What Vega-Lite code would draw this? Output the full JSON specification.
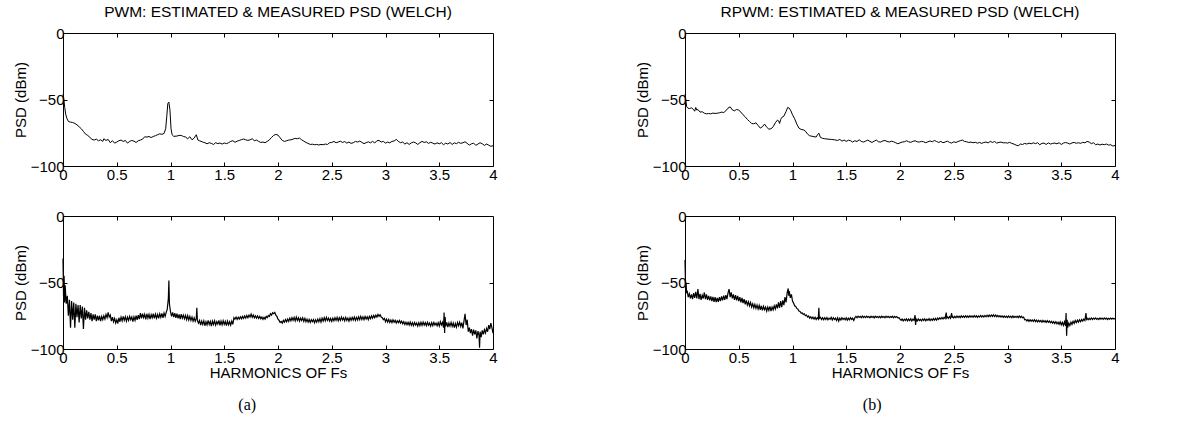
{
  "$schema": "https://vega.github.io/schema/vega-lite/v6.json",
  "padding": {"left": 12, "top": 4, "right": 5, "bottom": 2},
  "background": "white",
  "config": {
    "view": {"stroke": "black", "strokeWidth": 1},
    "font": "Liberation Sans",
    "axis": {
      "grid": false, "domain": false, "ticks": true, "tickSize": -4, "tickColor": "black", "tickWidth": 1,
      "labelColor": "black", "labelFont": "Liberation Sans", "labelFontSize": 15, "labelPadding": 5,
      "labelOverlap": false, "labelFlush": false, "labelBound": false,
      "titleColor": "black", "titleFont": "Liberation Sans", "titleFontSize": 15, "titleFontWeight": "normal"
    },
    "axisY": {"labelPadding": 3},
    "title": {"font": "Liberation Sans", "fontSize": 15.5, "fontWeight": "normal", "color": "black", "frame": "group", "anchor": "middle", "offset": 6}
  },
  "datasets": {
    "pwm_est": [
      {"h":0,"p":-46},{"h":0.008,"p":-50},{"h":0.016,"p":-56},{"h":0.025,"p":-61},{"h":0.035,"p":-64},{"h":0.05,"p":-66.5},{"h":0.07,"p":-67},{"h":0.09,"p":-67.3},{"h":0.11,"p":-68},{"h":0.13,"p":-69},{"h":0.15,"p":-70.5},{"h":0.17,"p":-72},{"h":0.19,"p":-74},{"h":0.21,"p":-76},{"h":0.23,"p":-77},{"h":0.25,"p":-78.5},{"h":0.27,"p":-80},{"h":0.29,"p":-80.5},{"h":0.31,"p":-79.8},{"h":0.33,"p":-81},{"h":0.35,"p":-80.3},{"h":0.37,"p":-81.5},{"h":0.38,"p":-79.5},{"h":0.40,"p":-80.8},{"h":0.42,"p":-80},{"h":0.44,"p":-82.5},{"h":0.46,"p":-81},{"h":0.48,"p":-82.8},{"h":0.50,"p":-82},{"h":0.52,"p":-81},{"h":0.54,"p":-80.5},{"h":0.56,"p":-81.5},{"h":0.58,"p":-80.8},{"h":0.60,"p":-82.8},{"h":0.62,"p":-81.5},{"h":0.64,"p":-80.8},{"h":0.66,"p":-81.3},{"h":0.68,"p":-82.3},{"h":0.70,"p":-81},{"h":0.72,"p":-80.5},{"h":0.74,"p":-79.8},{"h":0.76,"p":-78},{"h":0.78,"p":-78.3},{"h":0.80,"p":-77.8},{"h":0.82,"p":-78.6},{"h":0.84,"p":-77.8},{"h":0.86,"p":-77.2},{"h":0.88,"p":-76.5},{"h":0.90,"p":-75.8},{"h":0.92,"p":-76.2},{"h":0.94,"p":-75.5},{"h":0.955,"p":-72},{"h":0.965,"p":-63},{"h":0.975,"p":-53},{"h":0.985,"p":-52},{"h":0.995,"p":-58},{"h":1.005,"p":-72},{"h":1.015,"p":-76.5},{"h":1.03,"p":-77.7},{"h":1.06,"p":-77.5},{"h":1.08,"p":-77},{"h":1.10,"p":-77},{"h":1.12,"p":-77.8},{"h":1.14,"p":-78.2},{"h":1.16,"p":-79.5},{"h":1.18,"p":-78},{"h":1.20,"p":-80.3},{"h":1.22,"p":-79},{"h":1.24,"p":-76.5},{"h":1.255,"p":-80.5},{"h":1.27,"p":-81},{"h":1.30,"p":-82},{"h":1.32,"p":-82.5},{"h":1.34,"p":-83.3},{"h":1.36,"p":-82.5},{"h":1.38,"p":-83},{"h":1.40,"p":-83.8},{"h":1.42,"p":-82.5},{"h":1.44,"p":-83.2},{"h":1.46,"p":-82.7},{"h":1.48,"p":-83.5},{"h":1.50,"p":-82.7},{"h":1.52,"p":-83.2},{"h":1.54,"p":-82.5},{"h":1.56,"p":-81.5},{"h":1.58,"p":-81},{"h":1.60,"p":-82.2},{"h":1.62,"p":-81.3},{"h":1.64,"p":-80.8},{"h":1.66,"p":-80.2},{"h":1.68,"p":-79.7},{"h":1.70,"p":-80.3},{"h":1.72,"p":-80.8},{"h":1.74,"p":-80.3},{"h":1.76,"p":-79.5},{"h":1.78,"p":-81},{"h":1.80,"p":-80.5},{"h":1.82,"p":-81.5},{"h":1.84,"p":-82.3},{"h":1.86,"p":-82},{"h":1.88,"p":-82.5},{"h":1.90,"p":-81.5},{"h":1.92,"p":-80.3},{"h":1.94,"p":-78.5},{"h":1.96,"p":-77},{"h":1.98,"p":-76.2},{"h":2.00,"p":-76.8},{"h":2.02,"p":-78.8},{"h":2.04,"p":-80.8},{"h":2.06,"p":-81.5},{"h":2.08,"p":-81},{"h":2.10,"p":-80.5},{"h":2.12,"p":-80.3},{"h":2.14,"p":-79.8},{"h":2.16,"p":-79.2},{"h":2.18,"p":-79.5},{"h":2.20,"p":-79},{"h":2.22,"p":-80.3},{"h":2.24,"p":-81.3},{"h":2.26,"p":-82.3},{"h":2.28,"p":-83},{"h":2.30,"p":-83.8},{"h":2.32,"p":-83.6},{"h":2.34,"p":-84},{"h":2.36,"p":-83.8},{"h":2.38,"p":-84.2},{"h":2.40,"p":-83.8},{"h":2.42,"p":-84},{"h":2.44,"p":-83.5},{"h":2.46,"p":-83.8},{"h":2.48,"p":-82.5},{"h":2.50,"p":-82.3},{"h":2.52,"p":-81.5},{"h":2.54,"p":-82.5},{"h":2.56,"p":-82},{"h":2.58,"p":-81.3},{"h":2.60,"p":-82.3},{"h":2.62,"p":-81.6},{"h":2.64,"p":-82.8},{"h":2.66,"p":-82},{"h":2.68,"p":-83},{"h":2.70,"p":-82.5},{"h":2.72,"p":-81.5},{"h":2.74,"p":-82},{"h":2.76,"p":-81.3},{"h":2.78,"p":-82.2},{"h":2.80,"p":-83.2},{"h":2.82,"p":-82.5},{"h":2.84,"p":-81.8},{"h":2.86,"p":-82.6},{"h":2.88,"p":-81.5},{"h":2.90,"p":-82.7},{"h":2.92,"p":-81},{"h":2.94,"p":-80.8},{"h":2.96,"p":-82},{"h":2.98,"p":-81.5},{"h":3.00,"p":-82.8},{"h":3.02,"p":-82},{"h":3.04,"p":-82.6},{"h":3.06,"p":-81.5},{"h":3.08,"p":-81.2},{"h":3.10,"p":-80},{"h":3.12,"p":-81.5},{"h":3.14,"p":-82.5},{"h":3.16,"p":-82},{"h":3.18,"p":-83.5},{"h":3.20,"p":-82.5},{"h":3.22,"p":-83.8},{"h":3.24,"p":-82.6},{"h":3.26,"p":-82},{"h":3.28,"p":-82.6},{"h":3.30,"p":-83.8},{"h":3.32,"p":-82.5},{"h":3.34,"p":-81.5},{"h":3.36,"p":-82.3},{"h":3.38,"p":-81.8},{"h":3.40,"p":-83},{"h":3.42,"p":-82.2},{"h":3.44,"p":-82.8},{"h":3.46,"p":-83.5},{"h":3.48,"p":-82.6},{"h":3.50,"p":-83.3},{"h":3.52,"p":-82.5},{"h":3.54,"p":-84},{"h":3.56,"p":-82.8},{"h":3.58,"p":-83.5},{"h":3.60,"p":-82.3},{"h":3.62,"p":-83.8},{"h":3.64,"p":-82.6},{"h":3.66,"p":-83.2},{"h":3.68,"p":-82.2},{"h":3.70,"p":-83},{"h":3.72,"p":-82.5},{"h":3.74,"p":-81.8},{"h":3.76,"p":-83},{"h":3.78,"p":-84.3},{"h":3.80,"p":-83.3},{"h":3.82,"p":-82.8},{"h":3.84,"p":-84.5},{"h":3.86,"p":-83.5},{"h":3.88,"p":-82.5},{"h":3.90,"p":-83.3},{"h":3.92,"p":-84.5},{"h":3.94,"p":-83.5},{"h":3.96,"p":-84.3},{"h":3.98,"p":-85.2},{"h":4.00,"p":-84.8}
    ],
    "rpwm_est": [
      {"h":0,"p":-46},{"h":0.008,"p":-51},{"h":0.016,"p":-55.5},{"h":0.027,"p":-56.5},{"h":0.04,"p":-56.8},{"h":0.06,"p":-56.3},{"h":0.08,"p":-57.5},{"h":0.09,"p":-58.8},{"h":0.10,"p":-56},{"h":0.11,"p":-58},{"h":0.12,"p":-57.5},{"h":0.14,"p":-59.5},{"h":0.16,"p":-59.2},{"h":0.18,"p":-60.3},{"h":0.20,"p":-60.8},{"h":0.22,"p":-60.5},{"h":0.24,"p":-60.8},{"h":0.26,"p":-60.2},{"h":0.28,"p":-60.5},{"h":0.30,"p":-60.3},{"h":0.32,"p":-60},{"h":0.34,"p":-59.5},{"h":0.36,"p":-59.8},{"h":0.38,"p":-58.5},{"h":0.40,"p":-56.5},{"h":0.42,"p":-55.5},{"h":0.44,"p":-57.8},{"h":0.46,"p":-58.5},{"h":0.48,"p":-57.5},{"h":0.50,"p":-58},{"h":0.52,"p":-59.5},{"h":0.54,"p":-61.5},{"h":0.56,"p":-63},{"h":0.58,"p":-65},{"h":0.60,"p":-66.5},{"h":0.62,"p":-68},{"h":0.64,"p":-68.3},{"h":0.66,"p":-67.5},{"h":0.68,"p":-69.5},{"h":0.70,"p":-71.5},{"h":0.72,"p":-70.5},{"h":0.74,"p":-68.5},{"h":0.76,"p":-70.8},{"h":0.78,"p":-72.3},{"h":0.80,"p":-72},{"h":0.82,"p":-70.5},{"h":0.84,"p":-67.5},{"h":0.86,"p":-65.5},{"h":0.87,"p":-66},{"h":0.88,"p":-68},{"h":0.89,"p":-65},{"h":0.90,"p":-63.5},{"h":0.92,"p":-62.5},{"h":0.94,"p":-59},{"h":0.955,"p":-56},{"h":0.97,"p":-56.5},{"h":0.985,"p":-58.5},{"h":1.00,"p":-61.5},{"h":1.02,"p":-64.5},{"h":1.04,"p":-68.5},{"h":1.06,"p":-71.5},{"h":1.08,"p":-72.5},{"h":1.10,"p":-72.8},{"h":1.12,"p":-73.8},{"h":1.14,"p":-76},{"h":1.16,"p":-77.3},{"h":1.18,"p":-77.6},{"h":1.20,"p":-78},{"h":1.22,"p":-78.2},{"h":1.235,"p":-76.2},{"h":1.245,"p":-75.3},{"h":1.26,"p":-78.5},{"h":1.28,"p":-79.2},{"h":1.30,"p":-79.5},{"h":1.33,"p":-79.8},{"h":1.36,"p":-80},{"h":1.39,"p":-80.3},{"h":1.42,"p":-80.8},{"h":1.44,"p":-80},{"h":1.46,"p":-81.3},{"h":1.48,"p":-80.5},{"h":1.50,"p":-81.5},{"h":1.52,"p":-80.6},{"h":1.54,"p":-81},{"h":1.56,"p":-82},{"h":1.58,"p":-81},{"h":1.60,"p":-81.6},{"h":1.62,"p":-80.3},{"h":1.64,"p":-81.5},{"h":1.66,"p":-82},{"h":1.68,"p":-81.3},{"h":1.70,"p":-80.5},{"h":1.72,"p":-81.5},{"h":1.74,"p":-82.3},{"h":1.76,"p":-81.3},{"h":1.78,"p":-80.5},{"h":1.80,"p":-81.8},{"h":1.82,"p":-82},{"h":1.84,"p":-81.2},{"h":1.86,"p":-80.8},{"h":1.88,"p":-81.5},{"h":1.90,"p":-82},{"h":1.92,"p":-81.3},{"h":1.94,"p":-81.8},{"h":1.96,"p":-82.5},{"h":1.98,"p":-83.3},{"h":2.00,"p":-82.6},{"h":2.02,"p":-82},{"h":2.04,"p":-81.8},{"h":2.06,"p":-81},{"h":2.08,"p":-81.8},{"h":2.10,"p":-82.2},{"h":2.12,"p":-81.5},{"h":2.14,"p":-81},{"h":2.16,"p":-81.8},{"h":2.18,"p":-82},{"h":2.20,"p":-81.5},{"h":2.22,"p":-81.8},{"h":2.24,"p":-82.5},{"h":2.26,"p":-81.8},{"h":2.28,"p":-81.2},{"h":2.30,"p":-81.8},{"h":2.32,"p":-80.8},{"h":2.34,"p":-81.6},{"h":2.36,"p":-82.3},{"h":2.38,"p":-81.5},{"h":2.40,"p":-82.5},{"h":2.42,"p":-82},{"h":2.44,"p":-81.3},{"h":2.46,"p":-82.2},{"h":2.48,"p":-82.8},{"h":2.50,"p":-81.8},{"h":2.52,"p":-82.3},{"h":2.54,"p":-81.6},{"h":2.56,"p":-81},{"h":2.58,"p":-80.5},{"h":2.60,"p":-81.5},{"h":2.62,"p":-81.8},{"h":2.64,"p":-82.3},{"h":2.66,"p":-82},{"h":2.68,"p":-82.5},{"h":2.70,"p":-82.2},{"h":2.72,"p":-82.8},{"h":2.74,"p":-82.3},{"h":2.76,"p":-83},{"h":2.78,"p":-82.3},{"h":2.80,"p":-82},{"h":2.82,"p":-82.6},{"h":2.84,"p":-81.5},{"h":2.86,"p":-82.3},{"h":2.88,"p":-81.6},{"h":2.90,"p":-82.8},{"h":2.92,"p":-82.3},{"h":2.94,"p":-82},{"h":2.96,"p":-82.6},{"h":2.98,"p":-82.5},{"h":3.00,"p":-82.8},{"h":3.02,"p":-82.2},{"h":3.04,"p":-83},{"h":3.06,"p":-83.5},{"h":3.08,"p":-84.3},{"h":3.10,"p":-84.8},{"h":3.12,"p":-83.5},{"h":3.14,"p":-83.8},{"h":3.16,"p":-83},{"h":3.18,"p":-83.5},{"h":3.20,"p":-82.8},{"h":3.22,"p":-83.3},{"h":3.24,"p":-82.6},{"h":3.26,"p":-83.2},{"h":3.28,"p":-82.5},{"h":3.30,"p":-84},{"h":3.32,"p":-83},{"h":3.34,"p":-82.8},{"h":3.36,"p":-83.8},{"h":3.38,"p":-82.6},{"h":3.40,"p":-83.5},{"h":3.42,"p":-83},{"h":3.44,"p":-82.8},{"h":3.46,"p":-83.3},{"h":3.48,"p":-82.5},{"h":3.50,"p":-83.8},{"h":3.52,"p":-82.8},{"h":3.54,"p":-82.3},{"h":3.56,"p":-82.8},{"h":3.58,"p":-83.5},{"h":3.60,"p":-82.6},{"h":3.62,"p":-82.3},{"h":3.64,"p":-82.9},{"h":3.66,"p":-82.5},{"h":3.68,"p":-83},{"h":3.70,"p":-82.2},{"h":3.72,"p":-82.6},{"h":3.74,"p":-81.5},{"h":3.76,"p":-82},{"h":3.78,"p":-83.2},{"h":3.80,"p":-82.5},{"h":3.82,"p":-84},{"h":3.84,"p":-83.5},{"h":3.86,"p":-84.2},{"h":3.88,"p":-83.6},{"h":3.90,"p":-84},{"h":3.92,"p":-83.5},{"h":3.94,"p":-84.3},{"h":3.96,"p":-84},{"h":3.98,"p":-85},{"h":4.00,"p":-84.6}
    ],
    "pwm_meas": [
      {"h":0,"p":-32},{"h":0.005,"p":-60},{"h":0.01,"p":-45},{"h":0.015,"p":-65},{"h":0.02,"p":-52},{"h":0.03,"p":-66},{"h":0.04,"p":-60},{"h":0.05,"p":-75},{"h":0.06,"p":-63},{"h":0.07,"p":-84},{"h":0.08,"p":-64},{"h":0.09,"p":-78},{"h":0.10,"p":-65},{"h":0.11,"p":-84},{"h":0.12,"p":-66},{"h":0.13,"p":-76},{"h":0.14,"p":-67},{"h":0.15,"p":-80},{"h":0.16,"p":-67},{"h":0.17,"p":-77},{"h":0.18,"p":-68},{"h":0.19,"p":-85},{"h":0.20,"p":-69},{"h":0.21,"p":-78},{"h":0.22,"p":-71},{"h":0.23,"p":-77},{"h":0.24,"p":-72},{"h":0.25,"p":-78},{"h":0.26,"p":-73},{"h":0.27,"p":-79},{"h":0.28,"p":-74},{"h":0.29,"p":-78},{"h":0.30,"p":-74},{"h":0.31,"p":-79},{"h":0.32,"p":-75},{"h":0.33,"p":-78.5},{"h":0.34,"p":-75},{"h":0.35,"p":-79},{"h":0.36,"p":-75.5},{"h":0.37,"p":-78},{"h":0.38,"p":-75},{"h":0.39,"p":-77.5},{"h":0.40,"p":-74},{"h":0.41,"p":-76.5},{"h":0.42,"p":-72.5},{"h":0.43,"p":-76},{"h":0.44,"p":-74.5},{"h":0.45,"p":-79},{"h":0.46,"p":-76},{"h":0.47,"p":-79.5},{"h":0.48,"p":-77},{"h":0.49,"p":-80.5},{"h":0.50,"p":-78},{"h":0.51,"p":-80.8},{"h":0.52,"p":-76.5},{"h":0.53,"p":-79.5},{"h":0.54,"p":-76},{"h":0.55,"p":-78.8},{"h":0.56,"p":-75.5},{"h":0.57,"p":-78.5},{"h":0.58,"p":-75.8},{"h":0.59,"p":-79},{"h":0.60,"p":-76},{"h":0.61,"p":-78.5},{"h":0.62,"p":-75.5},{"h":0.63,"p":-78},{"h":0.64,"p":-76},{"h":0.65,"p":-79.5},{"h":0.66,"p":-75.8},{"h":0.67,"p":-78.5},{"h":0.68,"p":-75},{"h":0.69,"p":-78},{"h":0.70,"p":-74.5},{"h":0.71,"p":-77.5},{"h":0.72,"p":-73},{"h":0.73,"p":-77},{"h":0.74,"p":-73.5},{"h":0.75,"p":-76.5},{"h":0.76,"p":-74},{"h":0.77,"p":-77.8},{"h":0.78,"p":-73.5},{"h":0.79,"p":-76.8},{"h":0.80,"p":-74},{"h":0.81,"p":-77.5},{"h":0.82,"p":-74.2},{"h":0.83,"p":-76.5},{"h":0.84,"p":-73.5},{"h":0.85,"p":-77},{"h":0.86,"p":-73.8},{"h":0.87,"p":-76.8},{"h":0.88,"p":-74},{"h":0.89,"p":-77},{"h":0.90,"p":-73.5},{"h":0.91,"p":-76.2},{"h":0.92,"p":-73.2},{"h":0.93,"p":-76.5},{"h":0.94,"p":-73},{"h":0.95,"p":-75.5},{"h":0.96,"p":-72.5},{"h":0.97,"p":-70},{"h":0.98,"p":-62},{"h":0.985,"p":-48.5},{"h":0.99,"p":-66},{"h":1.00,"p":-72},{"h":1.01,"p":-75.5},{"h":1.02,"p":-72.5},{"h":1.03,"p":-76},{"h":1.04,"p":-73},{"h":1.05,"p":-76.5},{"h":1.06,"p":-73.5},{"h":1.07,"p":-77},{"h":1.08,"p":-74},{"h":1.09,"p":-77.5},{"h":1.10,"p":-73.8},{"h":1.11,"p":-76.8},{"h":1.12,"p":-74.5},{"h":1.13,"p":-77.2},{"h":1.14,"p":-74.8},{"h":1.15,"p":-78},{"h":1.16,"p":-75},{"h":1.17,"p":-78.2},{"h":1.18,"p":-75.5},{"h":1.19,"p":-78.5},{"h":1.20,"p":-76},{"h":1.21,"p":-79},{"h":1.22,"p":-76.5},{"h":1.23,"p":-79.2},{"h":1.24,"p":-76.8},{"h":1.245,"p":-69},{"h":1.25,"p":-78.5},{"h":1.26,"p":-80.5},{"h":1.27,"p":-78.5},{"h":1.28,"p":-82},{"h":1.29,"p":-79},{"h":1.30,"p":-81.5},{"h":1.31,"p":-78.8},{"h":1.32,"p":-82.5},{"h":1.33,"p":-79.5},{"h":1.34,"p":-81.8},{"h":1.35,"p":-78.5},{"h":1.36,"p":-81.5},{"h":1.37,"p":-79.2},{"h":1.38,"p":-82.8},{"h":1.39,"p":-79},{"h":1.40,"p":-81.5},{"h":1.41,"p":-78.8},{"h":1.42,"p":-82},{"h":1.43,"p":-79.5},{"h":1.44,"p":-81.2},{"h":1.45,"p":-78.5},{"h":1.46,"p":-82.3},{"h":1.47,"p":-79},{"h":1.48,"p":-81.8},{"h":1.49,"p":-78.8},{"h":1.50,"p":-81.5},{"h":1.51,"p":-79.2},{"h":1.52,"p":-82.5},{"h":1.53,"p":-79},{"h":1.54,"p":-81.8},{"h":1.55,"p":-79.5},{"h":1.56,"p":-82},{"h":1.57,"p":-79},{"h":1.58,"p":-81.5},{"h":1.59,"p":-76.5},{"h":1.60,"p":-77.5},{"h":1.61,"p":-76},{"h":1.62,"p":-77.8},{"h":1.63,"p":-76.2},{"h":1.64,"p":-77.5},{"h":1.65,"p":-75.8},{"h":1.66,"p":-77.3},{"h":1.67,"p":-75.5},{"h":1.68,"p":-77},{"h":1.69,"p":-75.2},{"h":1.70,"p":-76.8},{"h":1.71,"p":-74.8},{"h":1.72,"p":-76.5},{"h":1.73,"p":-74.5},{"h":1.74,"p":-76},{"h":1.75,"p":-73.8},{"h":1.76,"p":-76.2},{"h":1.77,"p":-74.5},{"h":1.78,"p":-76.5},{"h":1.79,"p":-75},{"h":1.80,"p":-76.8},{"h":1.81,"p":-75.2},{"h":1.82,"p":-77},{"h":1.83,"p":-75.5},{"h":1.84,"p":-77.3},{"h":1.85,"p":-76},{"h":1.86,"p":-77.8},{"h":1.87,"p":-76.2},{"h":1.88,"p":-77.5},{"h":1.89,"p":-75.5},{"h":1.90,"p":-76.5},{"h":1.91,"p":-74.8},{"h":1.92,"p":-75.5},{"h":1.93,"p":-73.5},{"h":1.94,"p":-74.5},{"h":1.95,"p":-72.8},{"h":1.96,"p":-73.5},{"h":1.97,"p":-72.5},{"h":1.98,"p":-74.5},{"h":1.99,"p":-75.5},{"h":2.00,"p":-77.5},{"h":2.01,"p":-78.5},{"h":2.02,"p":-80},{"h":2.03,"p":-79.2},{"h":2.04,"p":-80.5},{"h":2.05,"p":-78.5},{"h":2.06,"p":-79.8},{"h":2.07,"p":-77.8},{"h":2.08,"p":-79.5},{"h":2.09,"p":-77.5},{"h":2.10,"p":-79.2},{"h":2.11,"p":-76.8},{"h":2.12,"p":-78.8},{"h":2.13,"p":-76.5},{"h":2.14,"p":-78.5},{"h":2.15,"p":-76.2},{"h":2.16,"p":-78.8},{"h":2.17,"p":-76},{"h":2.18,"p":-78.5},{"h":2.19,"p":-76.5},{"h":2.20,"p":-79},{"h":2.21,"p":-76.8},{"h":2.22,"p":-78.5},{"h":2.23,"p":-76.5},{"h":2.24,"p":-79.2},{"h":2.25,"p":-77},{"h":2.26,"p":-79.5},{"h":2.27,"p":-77.5},{"h":2.28,"p":-79.8},{"h":2.29,"p":-77.8},{"h":2.30,"p":-80},{"h":2.31,"p":-78},{"h":2.32,"p":-79.5},{"h":2.33,"p":-77.8},{"h":2.34,"p":-80.2},{"h":2.35,"p":-78},{"h":2.36,"p":-79.8},{"h":2.37,"p":-77.5},{"h":2.38,"p":-79.5},{"h":2.39,"p":-77.2},{"h":2.40,"p":-79.8},{"h":2.41,"p":-76.8},{"h":2.42,"p":-79},{"h":2.43,"p":-76.5},{"h":2.44,"p":-78.8},{"h":2.45,"p":-76.2},{"h":2.46,"p":-78.5},{"h":2.47,"p":-76.8},{"h":2.48,"p":-79},{"h":2.49,"p":-77},{"h":2.50,"p":-79.2},{"h":2.51,"p":-76.8},{"h":2.52,"p":-78.8},{"h":2.53,"p":-76.5},{"h":2.54,"p":-78.5},{"h":2.55,"p":-76.2},{"h":2.56,"p":-78.8},{"h":2.57,"p":-76.5},{"h":2.58,"p":-78.5},{"h":2.59,"p":-76},{"h":2.60,"p":-78.2},{"h":2.61,"p":-76.5},{"h":2.62,"p":-78.8},{"h":2.63,"p":-76.2},{"h":2.64,"p":-78.5},{"h":2.65,"p":-76.8},{"h":2.66,"p":-79},{"h":2.67,"p":-76.5},{"h":2.68,"p":-78.5},{"h":2.69,"p":-76.2},{"h":2.70,"p":-78.2},{"h":2.71,"p":-76},{"h":2.72,"p":-78.5},{"h":2.73,"p":-76.2},{"h":2.74,"p":-78.2},{"h":2.75,"p":-75.8},{"h":2.76,"p":-78},{"h":2.77,"p":-75.5},{"h":2.78,"p":-77.8},{"h":2.79,"p":-75.8},{"h":2.80,"p":-78},{"h":2.81,"p":-75.5},{"h":2.82,"p":-77.5},{"h":2.83,"p":-75.8},{"h":2.84,"p":-78},{"h":2.85,"p":-75.5},{"h":2.86,"p":-77.2},{"h":2.87,"p":-75},{"h":2.88,"p":-76.8},{"h":2.89,"p":-74.8},{"h":2.90,"p":-76.5},{"h":2.91,"p":-74.5},{"h":2.92,"p":-76},{"h":2.93,"p":-74},{"h":2.94,"p":-75.5},{"h":2.95,"p":-74.2},{"h":2.96,"p":-76},{"h":2.97,"p":-76.5},{"h":2.98,"p":-78},{"h":2.99,"p":-77},{"h":3.00,"p":-79.5},{"h":3.01,"p":-77.5},{"h":3.02,"p":-79.8},{"h":3.03,"p":-77.8},{"h":3.04,"p":-80},{"h":3.05,"p":-78.2},{"h":3.06,"p":-80.2},{"h":3.07,"p":-78},{"h":3.08,"p":-79.8},{"h":3.09,"p":-78.5},{"h":3.10,"p":-80.5},{"h":3.11,"p":-78.8},{"h":3.12,"p":-80.2},{"h":3.13,"p":-78.5},{"h":3.14,"p":-80.5},{"h":3.15,"p":-79},{"h":3.16,"p":-81},{"h":3.17,"p":-79.5},{"h":3.18,"p":-81.5},{"h":3.19,"p":-79.8},{"h":3.20,"p":-81.8},{"h":3.21,"p":-80},{"h":3.22,"p":-82},{"h":3.23,"p":-79.8},{"h":3.24,"p":-82.2},{"h":3.25,"p":-80.2},{"h":3.26,"p":-82.5},{"h":3.27,"p":-80},{"h":3.28,"p":-82},{"h":3.29,"p":-80.5},{"h":3.30,"p":-82.8},{"h":3.31,"p":-80.2},{"h":3.32,"p":-82.5},{"h":3.33,"p":-80},{"h":3.34,"p":-82.2},{"h":3.35,"p":-79.8},{"h":3.36,"p":-82},{"h":3.37,"p":-80.2},{"h":3.38,"p":-82.5},{"h":3.39,"p":-80},{"h":3.40,"p":-82.2},{"h":3.41,"p":-80.5},{"h":3.42,"p":-82.8},{"h":3.43,"p":-80.2},{"h":3.44,"p":-82.5},{"h":3.45,"p":-80},{"h":3.46,"p":-82},{"h":3.47,"p":-80.5},{"h":3.48,"p":-82.5},{"h":3.49,"p":-80.2},{"h":3.50,"p":-82.8},{"h":3.51,"p":-79.5},{"h":3.52,"p":-82},{"h":3.53,"p":-80},{"h":3.54,"p":-84},{"h":3.545,"p":-72.5},{"h":3.55,"p":-88},{"h":3.555,"p":-76},{"h":3.56,"p":-83},{"h":3.57,"p":-80},{"h":3.58,"p":-83.5},{"h":3.59,"p":-80.5},{"h":3.60,"p":-82.8},{"h":3.61,"p":-80},{"h":3.62,"p":-83},{"h":3.63,"p":-80.5},{"h":3.64,"p":-84},{"h":3.65,"p":-80.8},{"h":3.66,"p":-83.5},{"h":3.67,"p":-80},{"h":3.68,"p":-82.5},{"h":3.69,"p":-79.8},{"h":3.70,"p":-83},{"h":3.71,"p":-80.2},{"h":3.72,"p":-84.5},{"h":3.73,"p":-79},{"h":3.74,"p":-73.5},{"h":3.75,"p":-82},{"h":3.76,"p":-78},{"h":3.77,"p":-87},{"h":3.78,"p":-84},{"h":3.79,"p":-88},{"h":3.80,"p":-85},{"h":3.81,"p":-90},{"h":3.82,"p":-85.5},{"h":3.83,"p":-89},{"h":3.84,"p":-86},{"h":3.85,"p":-92},{"h":3.86,"p":-86.5},{"h":3.87,"p":-90},{"h":3.875,"p":-99},{"h":3.88,"p":-87},{"h":3.89,"p":-91},{"h":3.90,"p":-86},{"h":3.91,"p":-89},{"h":3.92,"p":-85.5},{"h":3.93,"p":-88},{"h":3.94,"p":-84.5},{"h":3.95,"p":-87},{"h":3.96,"p":-82},{"h":3.97,"p":-85},{"h":3.98,"p":-80.5},{"h":3.99,"p":-84},{"h":4.00,"p":-88}
    ],
    "rpwm_meas": [
      {"h":0,"p":-33},{"h":0.005,"p":-52},{"h":0.01,"p":-50},{"h":0.015,"p":-58},{"h":0.02,"p":-56},{"h":0.03,"p":-61},{"h":0.04,"p":-58.5},{"h":0.05,"p":-62},{"h":0.06,"p":-59},{"h":0.07,"p":-62.5},{"h":0.08,"p":-58},{"h":0.09,"p":-61.5},{"h":0.10,"p":-57},{"h":0.11,"p":-62},{"h":0.12,"p":-55},{"h":0.13,"p":-62.5},{"h":0.14,"p":-58.5},{"h":0.15,"p":-63},{"h":0.16,"p":-59.5},{"h":0.17,"p":-62},{"h":0.18,"p":-57.5},{"h":0.19,"p":-62.5},{"h":0.20,"p":-59},{"h":0.21,"p":-63},{"h":0.22,"p":-60},{"h":0.23,"p":-63.5},{"h":0.24,"p":-60.5},{"h":0.25,"p":-64},{"h":0.26,"p":-60.8},{"h":0.27,"p":-64.5},{"h":0.28,"p":-61},{"h":0.29,"p":-64.8},{"h":0.30,"p":-61.5},{"h":0.31,"p":-64.5},{"h":0.32,"p":-61},{"h":0.33,"p":-64},{"h":0.34,"p":-60.5},{"h":0.35,"p":-63.5},{"h":0.36,"p":-59.8},{"h":0.37,"p":-63},{"h":0.38,"p":-59.5},{"h":0.39,"p":-62.5},{"h":0.40,"p":-58},{"h":0.41,"p":-55},{"h":0.42,"p":-61},{"h":0.43,"p":-57.5},{"h":0.44,"p":-62},{"h":0.45,"p":-59},{"h":0.46,"p":-63},{"h":0.47,"p":-59.5},{"h":0.48,"p":-63.5},{"h":0.49,"p":-60},{"h":0.50,"p":-64},{"h":0.51,"p":-61},{"h":0.52,"p":-65},{"h":0.53,"p":-61.5},{"h":0.54,"p":-65.5},{"h":0.55,"p":-62.5},{"h":0.56,"p":-66.5},{"h":0.57,"p":-63.5},{"h":0.58,"p":-67},{"h":0.59,"p":-64.5},{"h":0.60,"p":-67.5},{"h":0.61,"p":-65},{"h":0.62,"p":-68.5},{"h":0.63,"p":-66},{"h":0.64,"p":-69},{"h":0.65,"p":-66.5},{"h":0.66,"p":-69.5},{"h":0.67,"p":-67},{"h":0.68,"p":-70},{"h":0.69,"p":-67.2},{"h":0.70,"p":-70.5},{"h":0.71,"p":-67.5},{"h":0.72,"p":-71},{"h":0.73,"p":-68},{"h":0.74,"p":-70.5},{"h":0.75,"p":-68.5},{"h":0.76,"p":-71.5},{"h":0.77,"p":-68.5},{"h":0.78,"p":-71},{"h":0.79,"p":-68},{"h":0.80,"p":-71.5},{"h":0.81,"p":-68.5},{"h":0.82,"p":-70.5},{"h":0.83,"p":-67.5},{"h":0.84,"p":-70},{"h":0.85,"p":-66.5},{"h":0.86,"p":-69.5},{"h":0.87,"p":-65},{"h":0.88,"p":-69},{"h":0.89,"p":-64},{"h":0.90,"p":-68.5},{"h":0.91,"p":-63.5},{"h":0.92,"p":-67},{"h":0.93,"p":-61},{"h":0.94,"p":-65},{"h":0.95,"p":-58},{"h":0.96,"p":-54.5},{"h":0.965,"p":-60},{"h":0.97,"p":-56.5},{"h":0.98,"p":-61.5},{"h":0.99,"p":-59},{"h":1.00,"p":-64},{"h":1.01,"p":-65.5},{"h":1.02,"p":-67.5},{"h":1.03,"p":-68},{"h":1.04,"p":-69.5},{"h":1.05,"p":-70},{"h":1.06,"p":-71.5},{"h":1.07,"p":-71.8},{"h":1.08,"p":-73},{"h":1.09,"p":-72.8},{"h":1.10,"p":-74},{"h":1.11,"p":-73.5},{"h":1.12,"p":-75},{"h":1.13,"p":-74.5},{"h":1.14,"p":-76},{"h":1.15,"p":-75.2},{"h":1.16,"p":-76.8},{"h":1.17,"p":-75.8},{"h":1.18,"p":-77.2},{"h":1.19,"p":-76},{"h":1.20,"p":-77.5},{"h":1.21,"p":-76.2},{"h":1.22,"p":-77.8},{"h":1.23,"p":-76.5},{"h":1.24,"p":-77.5},{"h":1.245,"p":-69},{"h":1.25,"p":-77},{"h":1.26,"p":-76.2},{"h":1.27,"p":-77.8},{"h":1.28,"p":-76.5},{"h":1.29,"p":-78},{"h":1.30,"p":-76.5},{"h":1.31,"p":-77.8},{"h":1.32,"p":-76.3},{"h":1.33,"p":-78},{"h":1.34,"p":-76.8},{"h":1.35,"p":-77.6},{"h":1.36,"p":-76.2},{"h":1.37,"p":-78.2},{"h":1.38,"p":-76.5},{"h":1.39,"p":-77.8},{"h":1.40,"p":-76.8},{"h":1.41,"p":-78.5},{"h":1.42,"p":-76.5},{"h":1.43,"p":-79},{"h":1.44,"p":-76.8},{"h":1.45,"p":-78.2},{"h":1.46,"p":-76.5},{"h":1.47,"p":-77.8},{"h":1.48,"p":-76.8},{"h":1.49,"p":-78},{"h":1.50,"p":-76.5},{"h":1.51,"p":-78.3},{"h":1.52,"p":-76.8},{"h":1.53,"p":-78},{"h":1.54,"p":-76.5},{"h":1.55,"p":-77.8},{"h":1.56,"p":-76.8},{"h":1.57,"p":-78.5},{"h":1.58,"p":-76.5},{"h":1.59,"p":-75.5},{"h":1.60,"p":-76.5},{"h":1.61,"p":-75.3},{"h":1.62,"p":-76.2},{"h":1.63,"p":-75.5},{"h":1.64,"p":-76.5},{"h":1.65,"p":-75.2},{"h":1.66,"p":-76.3},{"h":1.67,"p":-75.5},{"h":1.68,"p":-76.4},{"h":1.69,"p":-75.3},{"h":1.70,"p":-76.2},{"h":1.71,"p":-75.6},{"h":1.72,"p":-76.5},{"h":1.73,"p":-75.4},{"h":1.74,"p":-76.3},{"h":1.75,"p":-75.5},{"h":1.76,"p":-76.6},{"h":1.77,"p":-75.3},{"h":1.78,"p":-76.2},{"h":1.79,"p":-75.6},{"h":1.80,"p":-76.4},{"h":1.81,"p":-75.5},{"h":1.82,"p":-76.5},{"h":1.83,"p":-75.4},{"h":1.84,"p":-76.2},{"h":1.85,"p":-75.6},{"h":1.86,"p":-76.5},{"h":1.87,"p":-75.3},{"h":1.88,"p":-76.3},{"h":1.89,"p":-75.5},{"h":1.90,"p":-76.4},{"h":1.91,"p":-75.6},{"h":1.92,"p":-76.2},{"h":1.93,"p":-75.4},{"h":1.94,"p":-76.5},{"h":1.95,"p":-75.5},{"h":1.96,"p":-76.3},{"h":1.97,"p":-75.6},{"h":1.98,"p":-76.6},{"h":1.99,"p":-76.5},{"h":2.00,"p":-77.6},{"h":2.01,"p":-78.4},{"h":2.02,"p":-77.5},{"h":2.03,"p":-78.8},{"h":2.04,"p":-77.6},{"h":2.05,"p":-78.5},{"h":2.06,"p":-77.3},{"h":2.07,"p":-78.8},{"h":2.08,"p":-77.5},{"h":2.09,"p":-78.6},{"h":2.10,"p":-77.2},{"h":2.11,"p":-78.9},{"h":2.12,"p":-77.6},{"h":2.13,"p":-78.4},{"h":2.14,"p":-74.5},{"h":2.145,"p":-82},{"h":2.15,"p":-77.5},{"h":2.16,"p":-79},{"h":2.17,"p":-77.4},{"h":2.18,"p":-78.6},{"h":2.19,"p":-77.8},{"h":2.20,"p":-78.9},{"h":2.21,"p":-77.5},{"h":2.22,"p":-78.5},{"h":2.23,"p":-77.3},{"h":2.24,"p":-78.8},{"h":2.25,"p":-77.6},{"h":2.26,"p":-78.4},{"h":2.27,"p":-77.2},{"h":2.28,"p":-78.6},{"h":2.29,"p":-77.4},{"h":2.30,"p":-78.5},{"h":2.31,"p":-77.2},{"h":2.32,"p":-78.3},{"h":2.33,"p":-77},{"h":2.34,"p":-78.2},{"h":2.35,"p":-76.8},{"h":2.36,"p":-77.8},{"h":2.37,"p":-76.5},{"h":2.38,"p":-77.5},{"h":2.39,"p":-76.3},{"h":2.40,"p":-77.4},{"h":2.41,"p":-76.2},{"h":2.42,"p":-77},{"h":2.43,"p":-72.6},{"h":2.435,"p":-76.5},{"h":2.44,"p":-75.8},{"h":2.45,"p":-77},{"h":2.46,"p":-75.6},{"h":2.47,"p":-76.8},{"h":2.48,"p":-73},{"h":2.485,"p":-76.5},{"h":2.49,"p":-75.5},{"h":2.50,"p":-76.6},{"h":2.51,"p":-75.4},{"h":2.52,"p":-76.5},{"h":2.53,"p":-75.2},{"h":2.54,"p":-76.3},{"h":2.55,"p":-75.3},{"h":2.56,"p":-76.4},{"h":2.57,"p":-75.1},{"h":2.58,"p":-76.2},{"h":2.59,"p":-75.2},{"h":2.60,"p":-76.3},{"h":2.61,"p":-75},{"h":2.62,"p":-76.1},{"h":2.63,"p":-75.2},{"h":2.64,"p":-76.2},{"h":2.65,"p":-75},{"h":2.66,"p":-76},{"h":2.67,"p":-75.1},{"h":2.68,"p":-76.1},{"h":2.69,"p":-74.9},{"h":2.70,"p":-76},{"h":2.71,"p":-75},{"h":2.72,"p":-76.2},{"h":2.73,"p":-75.1},{"h":2.74,"p":-76},{"h":2.75,"p":-74.8},{"h":2.76,"p":-75.9},{"h":2.77,"p":-74.9},{"h":2.78,"p":-76},{"h":2.79,"p":-74.8},{"h":2.80,"p":-75.8},{"h":2.81,"p":-74.6},{"h":2.82,"p":-75.7},{"h":2.83,"p":-74.5},{"h":2.84,"p":-75.6},{"h":2.85,"p":-74.4},{"h":2.86,"p":-75.5},{"h":2.87,"p":-74.3},{"h":2.88,"p":-75.6},{"h":2.89,"p":-74.5},{"h":2.90,"p":-75.7},{"h":2.91,"p":-74.8},{"h":2.92,"p":-75.8},{"h":2.93,"p":-75},{"h":2.94,"p":-76},{"h":2.95,"p":-75.1},{"h":2.96,"p":-76.1},{"h":2.97,"p":-75.2},{"h":2.98,"p":-76.2},{"h":2.99,"p":-75.3},{"h":3.00,"p":-76.3},{"h":3.01,"p":-75.2},{"h":3.02,"p":-76.2},{"h":3.03,"p":-75.3},{"h":3.04,"p":-76.4},{"h":3.05,"p":-75.2},{"h":3.06,"p":-76.3},{"h":3.07,"p":-75.4},{"h":3.08,"p":-76.2},{"h":3.09,"p":-75.3},{"h":3.10,"p":-76.4},{"h":3.11,"p":-75.2},{"h":3.12,"p":-76.3},{"h":3.13,"p":-75.4},{"h":3.14,"p":-76.5},{"h":3.15,"p":-76},{"h":3.16,"p":-78},{"h":3.17,"p":-77.8},{"h":3.18,"p":-79},{"h":3.19,"p":-77.9},{"h":3.20,"p":-79.2},{"h":3.21,"p":-78},{"h":3.22,"p":-79.1},{"h":3.23,"p":-78.2},{"h":3.24,"p":-79.3},{"h":3.25,"p":-78},{"h":3.26,"p":-79.4},{"h":3.27,"p":-78.3},{"h":3.28,"p":-79.6},{"h":3.29,"p":-78.4},{"h":3.30,"p":-79.5},{"h":3.31,"p":-78.6},{"h":3.32,"p":-79.8},{"h":3.33,"p":-78.5},{"h":3.34,"p":-79.7},{"h":3.35,"p":-78.8},{"h":3.36,"p":-80},{"h":3.37,"p":-78.7},{"h":3.38,"p":-79.9},{"h":3.39,"p":-79},{"h":3.40,"p":-80.3},{"h":3.41,"p":-79.2},{"h":3.42,"p":-80.5},{"h":3.43,"p":-79.4},{"h":3.44,"p":-80.8},{"h":3.45,"p":-79.5},{"h":3.46,"p":-81},{"h":3.47,"p":-79.8},{"h":3.48,"p":-81.4},{"h":3.49,"p":-79.6},{"h":3.50,"p":-81.8},{"h":3.51,"p":-80},{"h":3.52,"p":-82.2},{"h":3.53,"p":-79.5},{"h":3.54,"p":-82.5},{"h":3.545,"p":-73},{"h":3.55,"p":-90},{"h":3.555,"p":-78},{"h":3.56,"p":-84},{"h":3.57,"p":-80.5},{"h":3.58,"p":-82.4},{"h":3.59,"p":-79.8},{"h":3.60,"p":-81.5},{"h":3.61,"p":-79.2},{"h":3.62,"p":-80.8},{"h":3.63,"p":-78.6},{"h":3.64,"p":-80.2},{"h":3.65,"p":-78.3},{"h":3.66,"p":-79.8},{"h":3.67,"p":-78},{"h":3.68,"p":-79.5},{"h":3.69,"p":-77.8},{"h":3.70,"p":-79},{"h":3.71,"p":-77.5},{"h":3.72,"p":-78.6},{"h":3.73,"p":-73},{"h":3.735,"p":-77.5},{"h":3.74,"p":-76.8},{"h":3.75,"p":-78},{"h":3.76,"p":-76.9},{"h":3.77,"p":-77.9},{"h":3.78,"p":-76.7},{"h":3.79,"p":-77.8},{"h":3.80,"p":-76.8},{"h":3.81,"p":-77.6},{"h":3.82,"p":-76.6},{"h":3.83,"p":-77.7},{"h":3.84,"p":-76.9},{"h":3.85,"p":-77.8},{"h":3.86,"p":-76.7},{"h":3.87,"p":-77.6},{"h":3.88,"p":-76.8},{"h":3.89,"p":-77.7},{"h":3.90,"p":-76.6},{"h":3.91,"p":-77.5},{"h":3.92,"p":-76.8},{"h":3.93,"p":-77.8},{"h":3.94,"p":-76.9},{"h":3.95,"p":-77.6},{"h":3.96,"p":-76.7},{"h":3.97,"p":-77.5},{"h":3.98,"p":-76.8},{"h":3.99,"p":-77.4},{"h":4.00,"p":-77}
    ]
  },
  "spacing": 136,
  "hconcat": [
    {
      "bounds": "flush",
      "spacing": 50,
      "title": {"text": "(a)", "orient": "bottom", "font": "Liberation Serif", "fontSize": 16, "fontWeight": "normal", "frame": "bounds", "anchor": "middle", "offset": 16, "dx": -8},
      "vconcat": [
        {
          "width": 430, "height": 133,
          "title": {"text": "PWM: ESTIMATED & MEASURED PSD (WELCH)"},
          "layer": [
            {"data": {"name": "pwm_est"}, "mark": {"type": "line", "color": "black", "strokeWidth": 1},
             "encoding": {
               "x": {"field": "h", "type": "quantitative", "scale": {"domain": [0, 4], "nice": false, "zero": false}, "axis": {"values": [0,0.5,1,1.5,2,2.5,3,3.5,4], "format": ".1~f", "title": null}},
               "y": {"field": "p", "type": "quantitative", "scale": {"domain": [-100, 0], "nice": false, "zero": false}, "axis": {"values": [-100,-50,0], "format": "d", "title": "PSD (dBm)", "titlePadding": 2}}
             }},
            {"data": {"name": "pwm_est"}, "mark": {"type": "line", "opacity": 0},
             "encoding": {
               "x": {"field": "h", "type": "quantitative", "axis": {"orient": "top", "values": [0.5,1,1.5,2,2.5,3,3.5], "labels": false, "title": null}},
               "y": {"field": "p", "type": "quantitative", "axis": {"orient": "right", "values": [-50], "labels": false, "title": null}}
             }}
          ],
          "resolve": {"axis": {"x": "independent", "y": "independent"}}
        },
        {
          "width": 430, "height": 133,
          "layer": [
            {"data": {"name": "pwm_meas"}, "mark": {"type": "line", "color": "black", "strokeWidth": 1.2},
             "encoding": {
               "x": {"field": "h", "type": "quantitative", "scale": {"domain": [0, 4], "nice": false, "zero": false}, "axis": {"values": [0,0.5,1,1.5,2,2.5,3,3.5,4], "format": ".1~f", "title": "HARMONICS OF Fs", "titlePadding": 0}},
               "y": {"field": "p", "type": "quantitative", "scale": {"domain": [-100, 0], "nice": false, "zero": false}, "axis": {"values": [-100,-50,0], "format": "d", "title": "PSD (dBm)", "titlePadding": 2}}
             }},
            {"data": {"name": "pwm_meas"}, "mark": {"type": "line", "opacity": 0},
             "encoding": {
               "x": {"field": "h", "type": "quantitative", "axis": {"orient": "top", "values": [0.5,1,1.5,2,2.5,3,3.5], "labels": false, "title": null}},
               "y": {"field": "p", "type": "quantitative", "axis": {"orient": "right", "values": [-50], "labels": false, "title": null}}
             }}
          ],
          "resolve": {"axis": {"x": "independent", "y": "independent"}}
        }
      ]
    },
    {
      "bounds": "flush",
      "spacing": 50,
      "title": {"text": "(b)", "orient": "bottom", "font": "Liberation Serif", "fontSize": 16, "fontWeight": "normal", "frame": "bounds", "anchor": "middle", "offset": 16, "dx": -5},
      "vconcat": [
        {
          "width": 430, "height": 133,
          "title": {"text": "RPWM: ESTIMATED & MEASURED PSD (WELCH)"},
          "layer": [
            {"data": {"name": "rpwm_est"}, "mark": {"type": "line", "color": "black", "strokeWidth": 1},
             "encoding": {
               "x": {"field": "h", "type": "quantitative", "scale": {"domain": [0, 4], "nice": false, "zero": false}, "axis": {"values": [0,0.5,1,1.5,2,2.5,3,3.5,4], "format": ".1~f", "title": null}},
               "y": {"field": "p", "type": "quantitative", "scale": {"domain": [-100, 0], "nice": false, "zero": false}, "axis": {"values": [-100,-50,0], "format": "d", "title": "PSD (dBm)", "titlePadding": 2}}
             }},
            {"data": {"name": "rpwm_est"}, "mark": {"type": "line", "opacity": 0},
             "encoding": {
               "x": {"field": "h", "type": "quantitative", "axis": {"orient": "top", "values": [0.5,1,1.5,2,2.5,3,3.5], "labels": false, "title": null}},
               "y": {"field": "p", "type": "quantitative", "axis": {"orient": "right", "values": [-50], "labels": false, "title": null}}
             }}
          ],
          "resolve": {"axis": {"x": "independent", "y": "independent"}}
        },
        {
          "width": 430, "height": 133,
          "layer": [
            {"data": {"name": "rpwm_meas"}, "mark": {"type": "line", "color": "black", "strokeWidth": 1.2},
             "encoding": {
               "x": {"field": "h", "type": "quantitative", "scale": {"domain": [0, 4], "nice": false, "zero": false}, "axis": {"values": [0,0.5,1,1.5,2,2.5,3,3.5,4], "format": ".1~f", "title": "HARMONICS OF Fs", "titlePadding": 0}},
               "y": {"field": "p", "type": "quantitative", "scale": {"domain": [-100, 0], "nice": false, "zero": false}, "axis": {"values": [-100,-50,0], "format": "d", "title": "PSD (dBm)", "titlePadding": 2}}
             }},
            {"data": {"name": "rpwm_meas"}, "mark": {"type": "line", "opacity": 0},
             "encoding": {
               "x": {"field": "h", "type": "quantitative", "axis": {"orient": "top", "values": [0.5,1,1.5,2,2.5,3,3.5], "labels": false, "title": null}},
               "y": {"field": "p", "type": "quantitative", "axis": {"orient": "right", "values": [-50], "labels": false, "title": null}}
             }}
          ],
          "resolve": {"axis": {"x": "independent", "y": "independent"}}
        }
      ]
    }
  ]
}
